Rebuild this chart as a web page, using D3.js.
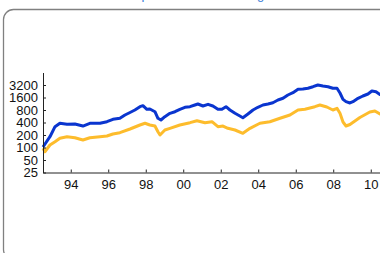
<!DOCTYPE html>
<html>
<head>
<meta charset="utf-8">
<script src="https://cdn.jsdelivr.net/npm/d3@7"></script>
<style>
  html, body { margin: 0; padding: 0; background: #fff; }
  svg { display: block; }
  .axis text { font-family: "Liberation Sans", Arial, sans-serif; font-size: 13px; fill: #111; }
  .axis path, .axis line { stroke: #222; }
</style>
</head>
<body>
<svg id="chart" width="380" height="253"></svg>
<script>
// ---- data (values indexed to 100 at start) ----
const titleText = "Index performance on a log scale";

const blueYears = [1992.52, 1992.89, 1993.16, 1993.42, 1993.80, 1994.22, 1994.65, 1995.02, 1995.56, 1995.93,
  1996.25, 1996.62, 1996.89, 1997.16, 1997.42, 1997.69, 1997.85, 1998.06, 1998.22, 1998.49,
  1998.65, 1998.81, 1999.02, 1999.29, 1999.56, 1999.82, 2000.09, 2000.36, 2000.62, 2000.78,
  2001.05, 2001.32, 2001.58, 2001.85, 2002.06, 2002.28, 2002.49, 2002.76, 2003.02, 2003.18,
  2003.45, 2003.72, 2003.98, 2004.25, 2004.52, 2004.78, 2005.05, 2005.32, 2005.58, 2005.85,
  2006.12, 2006.38, 2006.65, 2006.92, 2007.18, 2007.45, 2007.72, 2007.98, 2008.20, 2008.36,
  2008.52, 2008.68, 2008.89, 2009.05, 2009.32, 2009.58, 2009.85, 2010.06, 2010.28, 2010.49, 2010.58];
const blueValues = [103, 182, 317, 383, 362, 368, 329, 383, 383, 418,
  478, 505, 606, 696, 800, 961, 1016, 832, 846, 728,
  505, 459, 552, 666, 728, 832, 929, 961, 1056, 1116,
  999, 1097, 999, 832, 832, 961, 800, 666, 574, 522,
  641, 800, 929, 1056, 1116, 1199, 1393, 1531, 1838, 2088,
  2521, 2563, 2665, 2912, 3200, 3027, 2912, 2665, 2665, 2053,
  1448, 1268, 1180, 1268, 1531, 1739, 1943, 2294, 2207, 1890, 1850];

const yellowYears = [1992.52, 1992.62, 1992.89, 1993.16, 1993.42, 1993.80, 1994.22, 1994.65, 1995.02, 1995.56,
  1995.93, 1996.25, 1996.62, 1997.16, 1997.69, 1997.96, 1998.22, 1998.49, 1998.65, 1998.76,
  1999.02, 1999.29, 1999.82, 2000.36, 2000.73, 2001.16, 2001.53, 2001.85, 2002.12, 2002.38,
  2002.76, 2003.18, 2003.56, 2004.09, 2004.62, 2005.16, 2005.69, 2006.12, 2006.49, 2007.02,
  2007.29, 2007.66, 2007.98, 2008.20, 2008.36, 2008.52, 2008.68, 2008.89, 2009.42, 2009.95,
  2010.22, 2010.49, 2010.58];
const yellowValues = [96, 79, 115, 138, 167, 182, 172, 152, 172, 182,
  189, 211, 227, 279, 348, 383, 348, 329, 240, 200,
  264, 290, 348, 396, 442, 396, 418, 317, 329, 290,
  264, 220, 290, 383, 418, 505, 606, 800, 832, 961,
  1056, 945, 800, 879, 666, 411, 329, 358, 528, 716,
  757, 641, 630];

const yTickValues = [25, 50, 100, 200, 400, 800, 1600, 3200];
const yDomain = [25, 6400];
const xDomainYears = [1992.52, 2010.6];

// ---- helpers ----
function yearToDate(y) {
  const yr = Math.floor(y);
  const start = new Date(yr, 0, 1), end = new Date(yr + 1, 0, 1);
  return new Date(start.getTime() + (y - yr) * (end - start));
}

const svg = d3.select("#chart");

// rounded panel border (extends past the right edge)
svg.append("rect")
  .attr("x", 3.5).attr("y", 9.5)
  .attr("width", 420).attr("height", 250)
  .attr("rx", 10).attr("ry", 10)
  .attr("fill", "none")
  .attr("stroke", "#808080").attr("stroke-width", 1.3);

// title (mostly above the visible area)
svg.append("text")
  .attr("x", 106).attr("y", -1.2)
  .attr("font-family", "Liberation Sans, Arial, sans-serif")
  .attr("font-size", 13)
  .attr("fill", "#3b7dd8")
  .text(titleText);

const x = d3.scaleTime()
  .domain(xDomainYears.map(yearToDate))
  .range([43, 382]);

const y = d3.scaleLog().base(2)
  .domain(yDomain)
  .range([172.5, 72.5]);

const line = d3.line()
  .x(d => x(d[0]))
  .y(d => y(d[1]))
  .curve(d3.curveLinear);

const yellowData = yellowYears.map((yr, i) => [yearToDate(yr), yellowValues[i]]);
const blueData = blueYears.map((yr, i) => [yearToDate(yr), blueValues[i]]);

svg.append("path").datum(yellowData)
  .attr("d", line)
  .attr("fill", "none")
  .attr("stroke", "#fdbc2c")
  .attr("stroke-width", 3)
  .attr("stroke-linejoin", "round");

svg.append("path").datum(blueData)
  .attr("d", line)
  .attr("fill", "none")
  .attr("stroke", "#0a35cf")
  .attr("stroke-width", 3)
  .attr("stroke-linejoin", "round");

// axes
const yAxis = d3.axisLeft(y)
  .tickValues(yTickValues)
  .tickFormat(d3.format("d"))
  .tickSizeInner(-3)
  .tickSizeOuter(0)
  .tickPadding(5);

svg.append("g").attr("class", "axis")
  .attr("transform", "translate(43,0)")
  .call(yAxis);

const xAxis = d3.axisBottom(x)
  .ticks(d3.timeYear.every(2))
  .tickFormat(d3.timeFormat("%y"))
  .tickSizeInner(-3)
  .tickSizeOuter(0)
  .tickPadding(7);

svg.append("g").attr("class", "axis")
  .attr("transform", "translate(0,172.5)")
  .call(xAxis);
</script>
</body>
</html>
